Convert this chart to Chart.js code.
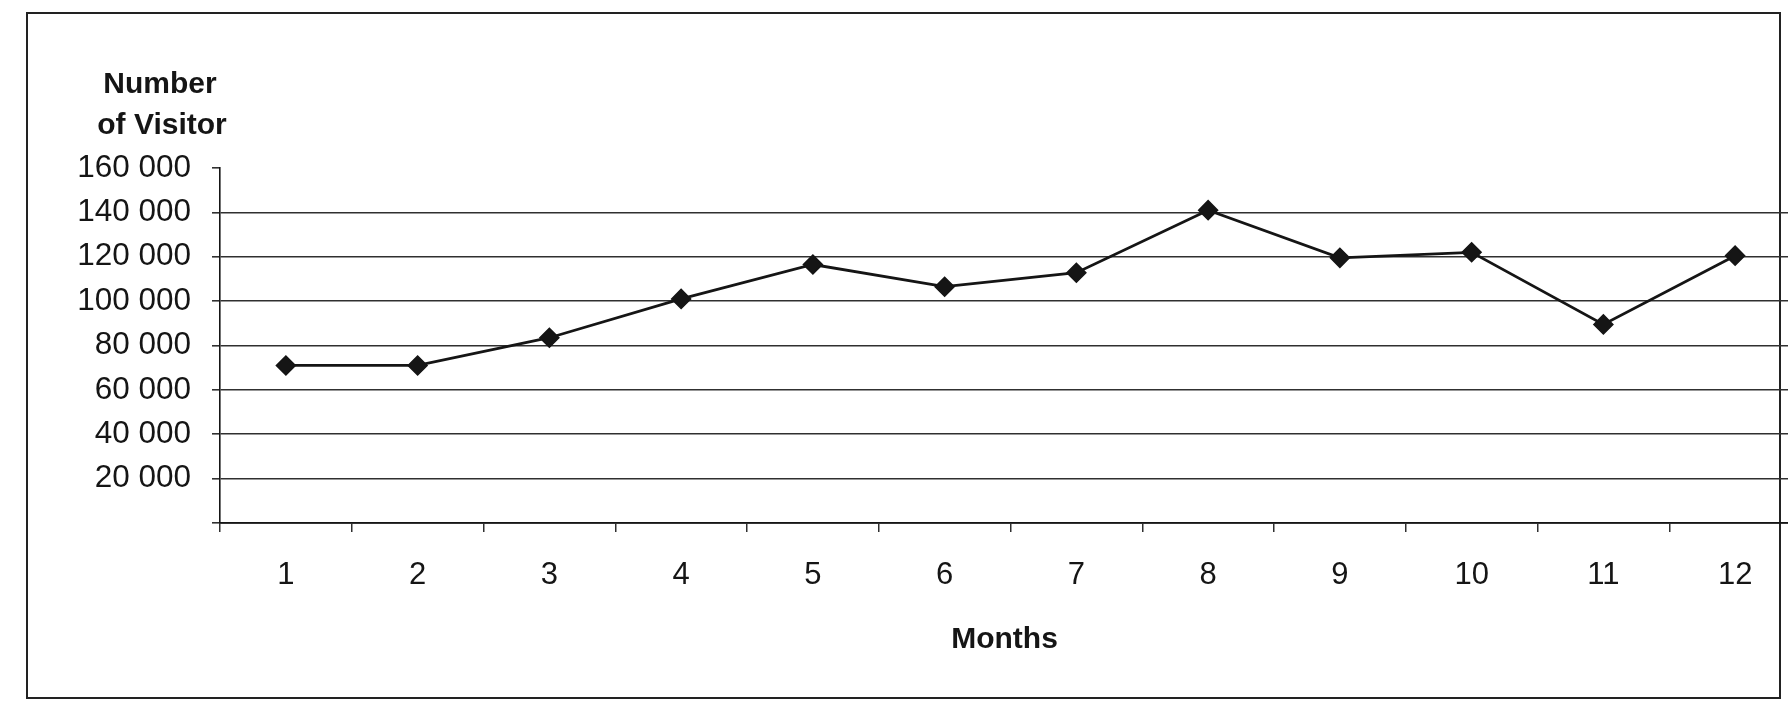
<!DOCTYPE html>
<html>
<head>
<meta charset="utf-8">
<script src="https://cdn.jsdelivr.net/npm/chart.js@4.4.0/dist/chart.umd.min.js"></script>
<style>
    html, body {
        margin: 0;
        padding: 0;
        background: #fff;
        overflow: hidden;
        width: 1788px;
        height: 710px;
    }
    #frame {
        position: absolute;
        left: 26px;
        top: 12px;
        width: 1751px;
        height: 683px;
        border: 2px solid #222;
    }
    #wrap {
        position: absolute;
        left: 0;
        top: 0;
        width: 1812px;
        height: 710px;
    }
</style>
</head>
<body>
<div id="frame"></div>
<div id="wrap"><canvas id="visitorChart"></canvas></div>
<script>
// Data
const months = ['1', '2', '3', '4', '5', '6', '7', '8', '9', '10', '11', '12'];
const visitors = [71000, 71000, 83500, 101000, 116500, 106500, 112800, 141000, 119500, 122000, 89500, 120500];
const yTicks = [0, 20000, 40000, 60000, 80000, 100000, 120000, 140000, 160000];
const yTitleLines = ['Number', 'of Visitor'];
const xTitle = 'Months';

const FONT = "'Liberation Sans', Arial, sans-serif";
const INK = '#151515';
const GRID = '#303030';

function formatThousands(v) {
    return String(v).replace(/\B(?=(\d{3})+(?!\d))/g, ' ');
}

// Axis titles are drawn flat (not rotated), like the original
const axisTitles = {
    id: 'axisTitles',
    afterDraw(chart) {
        const { ctx, chartArea } = chart;
        ctx.save();
        ctx.fillStyle = INK;
        ctx.font = `bold 30px ${FONT}`;
        ctx.textAlign = 'center';
        ctx.textBaseline = 'middle';
        ctx.fillText(yTitleLines[0], chartArea.left - 60, chartArea.top - 83);
        ctx.fillText(yTitleLines[1], chartArea.left - 58, chartArea.top - 42);
        ctx.fillText(xTitle, (chartArea.left + chartArea.right) / 2 - 6, 640);
        ctx.restore();
    }
};

const ctx = document.getElementById('visitorChart').getContext('2d');
const visitorChart = new Chart(ctx, {
    type: 'line',
    data: {
        labels: months,
        datasets: [{
            label: 'Number of Visitor',
            data: visitors,
            borderColor: INK,
            backgroundColor: INK,
            borderWidth: 2.8,
            tension: 0,
            fill: false,
            pointStyle: 'rectRot',
            pointRadius: 9.5,
            pointBorderWidth: 1.5,
            pointBackgroundColor: INK,
            pointBorderColor: INK
        }]
    },
    options: {
        responsive: true,
        maintainAspectRatio: false,
        animation: false,
        layout: {
            padding: { left: 0, top: 168, right: 4, bottom: 0 }
        },
        plugins: {
            legend: { display: false },
            tooltip: { enabled: false }
        },
        scales: {
            x: {
                offset: true,
                afterFit(scale) { scale.height = 187; },
                grid: {
                    offset: true,
                    drawOnChartArea: false,
                    drawTicks: true,
                    tickLength: 9,
                    tickColor: GRID,
                    lineWidth: 1.5
                },
                border: { color: INK, width: 1.8 },
                ticks: {
                    color: INK,
                    padding: 25,
                    font: { family: FONT, size: 31 }
                }
            },
            y: {
                min: 0,
                max: 160000,
                afterFit(scale) { scale.width = 220; },
                afterBuildTicks(scale) {
                    scale.ticks = yTicks.map(v => ({ value: v }));
                },
                grid: {
                    color: c => (c.tick && c.tick.value === 160000) ? 'rgba(0,0,0,0)' : GRID,
                    tickColor: GRID,
                    lineWidth: 1.6,
                    tickLength: 8
                },
                border: { color: INK, width: 1.6 },
                ticks: {
                    color: INK,
                    padding: 21,
                    font: { family: FONT, size: 31.5 },
                    callback: v => v === 0 ? '' : formatThousands(v)
                }
            }
        }
    },
    plugins: [axisTitles]
});
</script>
</body>
</html>
